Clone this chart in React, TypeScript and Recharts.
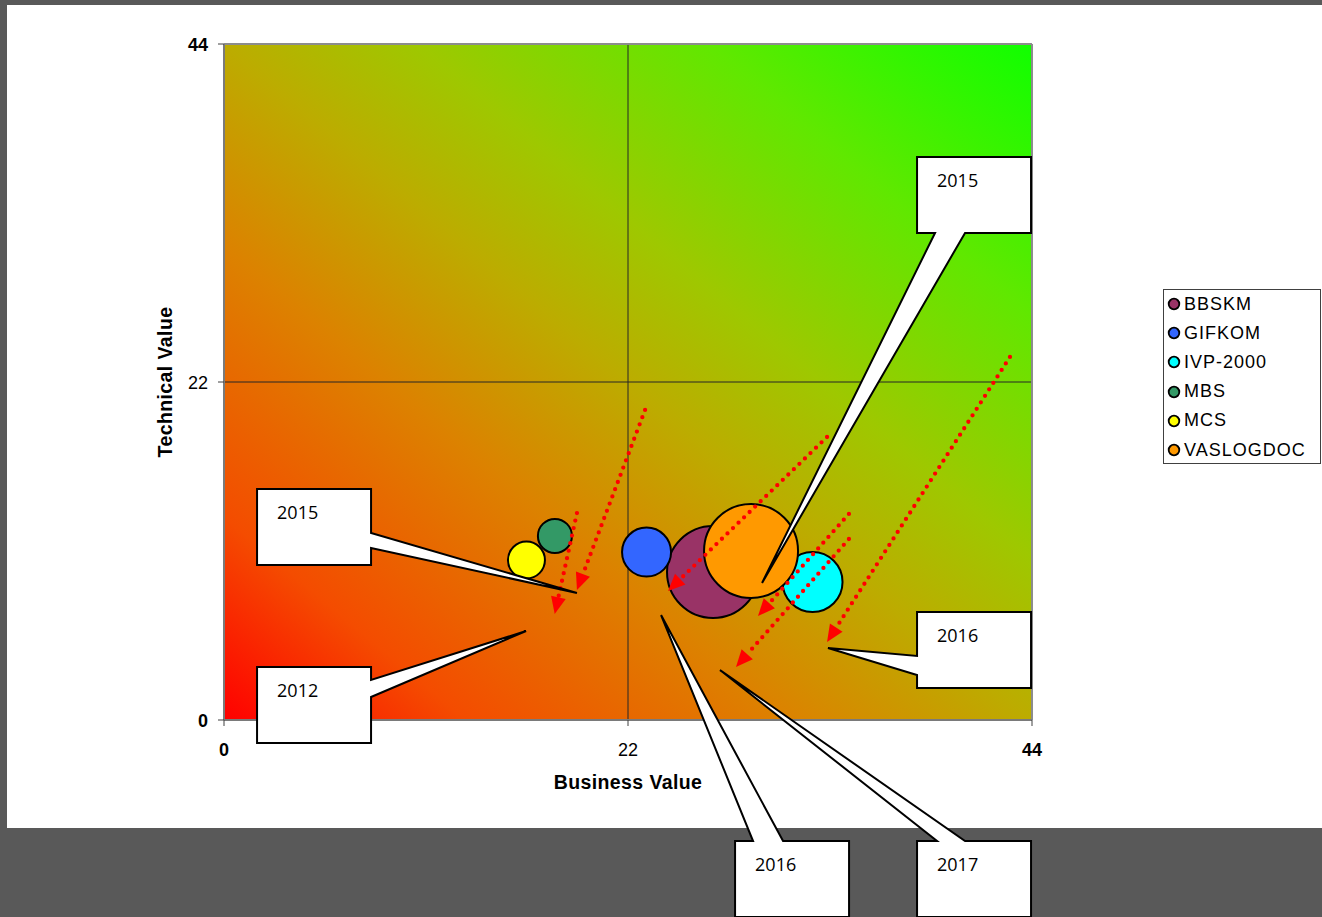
import React from "react";
import {
  ScatterChart,
  Scatter,
  XAxis,
  YAxis,
  ZAxis,
  CartesianGrid,
  ReferenceLine,
} from "recharts";

// series
const seriesNames = ["BBSKM", "GIFKOM", "IVP-2000", "MBS", "MCS", "VASLOGDOC"];
const seriesColors = ["#993366", "#3366ff", "#00ffff", "#339966", "#ffff00", "#ff9900"];
const businessValues = [26.63, 23.01, 32.05, 18.02, 16.47, 28.7];
const technicalValues = [9.63, 10.93, 8.98, 11.98, 10.41, 11.0];
const bubbleSizes = [95.8, 27.2, 40.7, 13.1, 15.5, 100];

const axisTicks = [0, 22, 44];

// annotation arrows (data units)
const arrowStarts = [
  [19.22, 13.47],
  [22.93, 20.18],
  [32.84, 18.42],
  [34.03, 13.41],
  [34.03, 11.78],
  [42.8, 23.63],
];
const arrowEnds = [
  [18.01, 6.9],
  [19.22, 8.46],
  [24.18, 8.4],
  [29.08, 6.77],
  [27.88, 3.45],
  [32.84, 5.08],
];

// callouts (data units)
const calloutLabels = ["2015", "2015", "2012", "2016", "2016", "2017"];
const calloutTips = [
  [29.3, 8.92],
  [19.22, 8.27],
  [16.45, 5.79],
  [32.89, 4.69],
  [23.8, 6.83],
  [27.01, 3.25],
];
const calloutBoxes = [
  [37.74, 36.65],
  [1.8, 15.04],
  [1.8, 3.45],
  [37.74, 7.03],
  [27.83, -7.88],
  [37.74, -7.88],
];
const calloutSides = ["bottom", "right", "right", "left", "top", "top"];
const calloutWedges = [
  [18, 48],
  [44, 59],
  [13, 30],
  [44, 63],
  [18, 48],
  [20, 48],
];

const BOX_W = 114;
const BOX_H = 76;

const seriesData = seriesNames.map((_, i) => [
  { business: businessValues[i], technical: technicalValues[i], size: bubbleSizes[i] },
]);

const DottedArrow = (p: any) => {
  const { x1, y1, x2, y2 } = p;
  const dx = x2 - x1;
  const dy = y2 - y1;
  const len = Math.hypot(dx, dy) || 1;
  const ux = dx / len;
  const uy = dy / len;
  const head = 17;
  const half = 7.5;
  const bx = x2 - ux * head;
  const by = y2 - uy * head;
  return (
    <g>
      <line
        x1={x1}
        y1={y1}
        x2={bx}
        y2={by}
        stroke="#ff0000"
        strokeWidth={4.3}
        strokeDasharray="0 7.7"
        strokeLinecap="round"
      />
      <polygon
        points={`${x2},${y2} ${bx - uy * half},${by + ux * half} ${bx + uy * half},${by - ux * half}`}
        fill="#ff0000"
      />
    </g>
  );
};

const makeCallout = (i: number) => (p: any) => {
  const tx = p.x1;
  const ty = p.y1;
  const x = p.x2;
  const y = p.y2;
  const [b1, b2] = calloutWedges[i];
  const side = calloutSides[i];
  let pts: number[][] = [];
  if (side === "bottom") {
    pts = [[x, y], [x + BOX_W, y], [x + BOX_W, y + BOX_H], [x + b2, y + BOX_H], [tx, ty], [x + b1, y + BOX_H], [x, y + BOX_H]];
  } else if (side === "right") {
    pts = [[x, y], [x + BOX_W, y], [x + BOX_W, y + b1], [tx, ty], [x + BOX_W, y + b2], [x + BOX_W, y + BOX_H], [x, y + BOX_H]];
  } else if (side === "left") {
    pts = [[x, y], [x + BOX_W, y], [x + BOX_W, y + BOX_H], [x, y + BOX_H], [x, y + b2], [tx, ty], [x, y + b1]];
  } else {
    pts = [[x, y], [x + b1, y], [tx, ty], [x + b2, y], [x + BOX_W, y], [x + BOX_W, y + BOX_H], [x, y + BOX_H]];
  }
  const d = "M" + pts.map((q) => `${q[0]},${q[1]}`).join(" L") + " Z";
  return (
    <g>
      <path d={d} fill="#ffffff" stroke="#000000" strokeWidth={2} strokeLinejoin="miter" />
      <text
        x={x + 20}
        y={y + 30}
        fontFamily="'Open Sans', 'Noto Sans', sans-serif"
        fontSize={18}
        fill="#000"
      >
        {calloutLabels[i]}
      </text>
    </g>
  );
};

const XTick = (props: any) => {
  const { x, y, payload } = props;
  return (
    <text
      x={x}
      y={y + 28}
      textAnchor="middle"
      fontFamily="'Liberation Sans', Arial, sans-serif"
      fontSize={18}
      fontWeight={payload.value === 22 ? 400 : 700}
      fill="#000"
    >
      {payload.value}
    </text>
  );
};

const YTick = (props: any) => {
  const { x, y, payload } = props;
  return (
    <text
      x={x}
      y={y + 6.5}
      textAnchor="end"
      fontFamily="'Liberation Sans', Arial, sans-serif"
      fontSize={18}
      fontWeight={payload.value === 22 ? 400 : 700}
      fill="#000"
    >
      {payload.value}
    </text>
  );
};

const labelStyle = {
  fontFamily: "'Liberation Sans', Arial, sans-serif",
  fontSize: 19.5,
  fontWeight: 700,
  letterSpacing: 0.4,
  fill: "#000",
  textAnchor: "middle" as const,
};

export default function App() {
  return (
    <div
      style={{
        position: "fixed",
        left: 0,
        top: 0,
        width: 1322,
        height: 917,
        background: "#595959",
        overflow: "hidden",
      }}
    >
      <div
        style={{ position: "absolute", left: 7, top: 5, width: 1315, height: 823, background: "#ffffff" }}
      />
      <svg width={0} height={0} style={{ position: "absolute" }}>
        <defs>
          <linearGradient id="bgGrad" x1="0" y1="1" x2="1" y2="0">
            <stop offset="0" stopColor="#ff0000" />
            <stop offset="0.15" stopColor="#f44c00" />
            <stop offset="0.35" stopColor="#dc8200" />
            <stop offset="0.5" stopColor="#bcac00" />
            <stop offset="0.62" stopColor="#9ec800" />
            <stop offset="0.8" stopColor="#60e800" />
            <stop offset="1" stopColor="#10ff00" />
          </linearGradient>
        </defs>
      </svg>
      <div style={{ position: "absolute", left: 0, top: 0 }}>
        <ScatterChart
          width={1322}
          height={917}
          margin={{ top: 44, right: 290, bottom: 157, left: 164 }}
        >
          <CartesianGrid horizontal={false} vertical={false} fill="url(#bgGrad)" fillOpacity={1} />
          <XAxis
            type="number"
            dataKey="business"
            domain={[0, 44]}
            ticks={axisTicks}
            height={40}
            tickSize={6}
            tickMargin={2}
            tick={<XTick />}
            axisLine={{ stroke: "#7a7a7a", strokeWidth: 2 }}
            tickLine={{ stroke: "#404040" }}
            label={{ value: "Business Value", position: "bottom", offset: 15, style: labelStyle }}
          />
          <YAxis
            type="number"
            dataKey="technical"
            domain={[0, 44]}
            ticks={axisTicks}
            width={60}
            tickSize={6}
            tickMargin={10}
            tick={<YTick />}
            axisLine={{ stroke: "#7a7a7a", strokeWidth: 2 }}
            tickLine={{ stroke: "#404040" }}
            label={{ value: "Technical Value", angle: -90, position: "insideLeft", offset: 1, style: labelStyle }}
          />
          <ZAxis type="number" dataKey="size" domain={[0, 100]} range={[0, 6940]} />
          <ReferenceLine x={22} stroke="#262626" strokeWidth={1} />
          <ReferenceLine y={22} stroke="#262626" strokeWidth={1} />
          <ReferenceLine y={44} stroke="#8c8c8c" strokeWidth={2} />
          <ReferenceLine x={44} stroke="#8c8c8c" strokeWidth={2} />
          {seriesNames.map((name, i) => (
            <Scatter
              key={name}
              name={name}
              data={seriesData[i]}
              fill={seriesColors[i]}
              stroke="#000000"
              strokeWidth={2}
              isAnimationActive={false}
            />
          ))}
          {arrowStarts.map((s, i) => (
            <ReferenceLine
              key={"arrow" + i}
              segment={[
                { x: s[0], y: s[1] },
                { x: arrowEnds[i][0], y: arrowEnds[i][1] },
              ]}
              ifOverflow="visible"
              zIndex={1000}
              shape={DottedArrow}
            />
          ))}
          {calloutTips.map((t, i) => (
            <ReferenceLine
              key={"callout" + i}
              segment={[
                { x: t[0], y: t[1] },
                { x: calloutBoxes[i][0], y: calloutBoxes[i][1] },
              ]}
              ifOverflow="visible"
              zIndex={1100}
              shape={makeCallout(i)}
            />
          ))}
        </ScatterChart>
      </div>
      <div
        style={{
          position: "absolute",
          left: 1163,
          top: 289,
          width: 156,
          height: 173,
          background: "#ffffff",
          border: "1px solid #404040",
          fontFamily: "'Liberation Sans', Arial, sans-serif",
          fontSize: 18,
          letterSpacing: 1,
          color: "#000",
        }}
      >
        {seriesNames.map((name, i) => (
          <div
            key={name}
            style={{ position: "absolute", left: 3, top: 3 + i * 29.2, height: 22, display: "flex", alignItems: "center" }}
          >
            <svg width={14} height={14} style={{ marginRight: 3 }}>
              <circle cx={7} cy={7} r={5.3} fill={seriesColors[i]} stroke="#000" strokeWidth={1.8} />
            </svg>
            <span>{name}</span>
          </div>
        ))}
      </div>
    </div>
  );
}
